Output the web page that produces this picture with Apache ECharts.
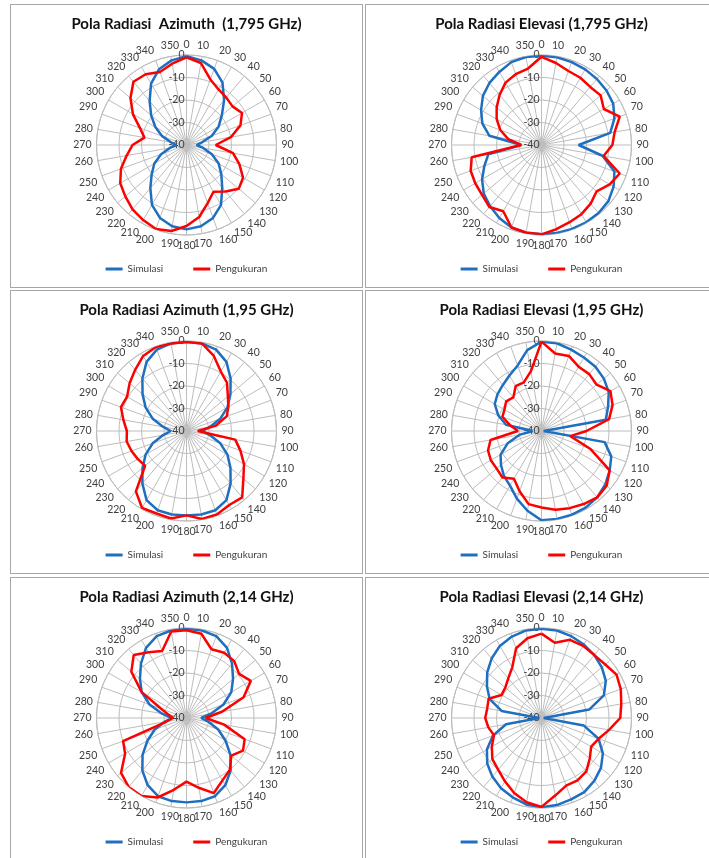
<!DOCTYPE html>
<html>
<head>
<meta charset="utf-8">
<script src="https://cdn.jsdelivr.net/npm/echarts@6/dist/echarts.min.js"></script>
<style>
html,body{margin:0;padding:0;background:#fff;width:709px;height:858px;overflow:hidden;position:relative;}
.cell{position:absolute;box-sizing:border-box;border:1px solid #a6a6a6;width:353px;height:284px;background:#fff;}
</style>
</head>
<body>
<div class="cell" id="c0" style="left:10px;top:4px"></div>
<div class="cell" id="c1" style="left:365px;top:4px"></div>
<div class="cell" id="c2" style="left:10px;top:290px"></div>
<div class="cell" id="c3" style="left:365px;top:290px"></div>
<div class="cell" id="c4" style="left:10px;top:577px"></div>
<div class="cell" id="c5" style="left:365px;top:577px"></div>
<script>
// angle categories (degrees) and radial ticks (dB)
const angles = [0,10,20,30,40,50,60,70,80,90,100,110,120,130,140,150,160,170,180,190,200,210,220,230,240,250,260,270,280,290,300,310,320,330,340,350];
const radialTicks = [-40,-30,-20,-10,0];
const seriesNames = ['Simulasi','Pengukuran'];
const titles = [
  'Pola Radiasi  Azimuth  (1,795 GHz)',
  'Pola Radiasi Elevasi (1,795 GHz)',
  'Pola Radiasi Azimuth (1,95 GHz)',
  'Pola Radiasi Elevasi (1,95 GHz)',
  'Pola Radiasi Azimuth (2,14 GHz)',
  'Pola Radiasi Elevasi (2,14 GHz)'
];

// Azimuth 1,795 GHz
const az1795Simulasi = [-0.5,-1.8,-4,-8,-14,-19.5,-23.5,-28,-33,-35.5,-32.5,-28,-23.5,-19.8,-15.3,-9.3,-5.5,-3.3,-2.5,-3.3,-5.5,-9.3,-15,-19.8,-23.5,-28,-32.5,-35.5,-33,-28.5,-24,-19.5,-14.5,-8.5,-4.2,-1.8];
const az1795Pengukuran = [-1,-3,-9,-11.5,-12.5,-13.3,-11.5,-14.5,-20,-27,-19,-15,-11,-9.7,-13,-16,-12.5,-7.5,-4,-1.2,-0.3,-1.5,-2.7,-4.5,-6,-9,-13,-16,-21,-18,-12.5,-7.5,-3.3,-3.7,-5.5,-3.3];
// Elevasi 1,795 GHz
const el1795Simulasi = [-0.3,-0.4,-0.8,-1.2,-1.7,-2.3,-3.2,-5.5,-9,-23.5,-12.5,-5.5,-3,-1.2,-0.5,-0.3,-0.3,-0.3,-0.3,-0.3,-1,-2.5,-4.5,-6.5,-9.5,-13,-16,-31,-16.5,-12,-9,-6,-4,-2.5,-0.8,-0.3];
const el1795Pengukuran = [-0.8,-3,-5,-5.5,-6.3,-5.7,-8,-3,-7,-8.5,-12,-3,-5,-8,-6,-4.5,-3.5,-2,-0.3,-0.5,-1,-6,-4,-5.5,-6,-6.5,-8.5,-31,-25,-20.5,-17,-14,-11,-8,-6.5,-5.5];
// Azimuth 1,95 GHz
const az195Simulasi = [-0.3,-0.5,-1.5,-4.5,-9.5,-14.5,-19,-24,-29.5,-33,-29.5,-24,-19,-14.5,-9.5,-4.5,-2.5,-2.3,-2.5,-2.3,-2.5,-4.5,-9.5,-14.5,-19,-24,-29.5,-33,-29.5,-24,-19,-14.5,-9.5,-4.5,-1.5,-0.5];
const az195Pengukuran = [-0.5,-0.5,-4.5,-9.5,-12,-16,-18.5,-21,-27,-35,-18,-14.5,-10.5,-7,-1.5,-2,-0.5,-0.3,-2.5,-0.5,-1,-0.5,-5,-16,-15,-14,-13,-13.5,-11.5,-9,-9.5,-7,-4.5,-1.5,-0.3,-0.5];
// Elevasi 1,95 GHz
const el195Simulasi = [-0.3,-0.4,-1.5,-2.3,-2.7,-3.8,-5.5,-8.5,-11,-39,-11.5,-7,-5,-3,-1.5,-0.7,-0.4,-0.3,-0.3,-4,-8,-12,-14,-16.5,-19,-24,-30,-36,-24,-19.5,-16,-14.5,-13.3,-11.5,-9,-3.5];
const el195Pengukuran = [-0.3,-5,-4.5,-7,-7,-8,-4.6,-6.4,-9.5,-20,-27,-17,-5,-2.2,-1.5,-2.5,-3.5,-4.5,-6,-7,-11.5,-15.5,-13,-14,-14,-14.7,-17,-29.5,-26,-21.5,-21,-19.5,-20.5,-17,-17,-13];
// Azimuth 2,14 GHz
const az214Simulasi = [-0.3,-0.5,-1.3,-4,-8.5,-13,-17,-22.5,-29,-33.5,-30,-25,-20,-14.5,-9.5,-5.5,-3,-2.5,-2.5,-2.5,-3,-5.5,-9.5,-14.5,-20,-25,-30,-33.5,-29,-22.5,-17,-13,-8.5,-4,-1.3,-0.5];
const az214Pengukuran = [-1,-2,-7.5,-6.5,-7,-9.5,-7,-13,-24,-31.5,-23,-12.5,-11,-14,-10,-8,-4.5,-8.5,-11.7,-7.6,-2.4,0,0,-2,-8.5,-10,-31,-34,-32,-28,-17,-8,-3.5,-6.3,-8.3,-1];
// Elevasi 2,14 GHz
const el214Simulasi = [-0.3,-0.5,-1.3,-2.3,-3.5,-5,-7,-10.5,-18.5,-39,-21,-13,-8.5,-5.5,-3.5,-2,-1.5,-0.7,-0.3,-1,-2.5,-4,-6,-8.5,-12,-17,-24,-39,-22,-15.5,-12,-8.5,-5.5,-3,-1.5,-0.5];
const el214Pengukuran = [-2.5,-6,-3,-3,-3.5,-3,-1.5,-2.5,-4,-5,-9.5,-13,-14.5,-12,-9,-8,-8,-5,-0.5,-2,-4.5,-7.5,-10,-11.5,-14.5,-17.5,-16,-15,-15.5,-15,-19.5,-19,-17,-14,-7,-4];

const panels = [
  [az1795Simulasi, az1795Pengukuran],
  [el1795Simulasi, el1795Pengukuran],
  [az195Simulasi, az195Pengukuran],
  [el195Simulasi, el195Pengukuran],
  [az214Simulasi, az214Pengukuran],
  [el214Simulasi, el214Pengukuran]
];
const colors = ['#1f6fc0', '#ff0000'];
const gridColor = '#bdbdbd';
const textColor = '#404040';
const font = 'Lato, "Open Sans", sans-serif';

function closed(vals) {
  const pts = vals.map((v, i) => [v, angles[i]]);
  pts.push([vals[0], 360]);
  return pts;
}

function makeOption(title, pair) {
  return {
    animation: false,
    backgroundColor: '#fff',
    title: {
      text: title, left: 'center', top: 7,
      textStyle: {fontFamily: font, fontSize: 15, fontWeight: 'bold', color: '#111'}
    },
    legend: {
      data: seriesNames, bottom: 8, left: 'center', icon: 'rect',
      itemWidth: 17, itemHeight: 3, itemGap: 30,
      textStyle: {fontFamily: font, fontSize: 10, color: textColor}
    },
    polar: {center: ['50%', 140], radius: 90},
    angleAxis: {
      type: 'value', min: 0, max: 360, interval: 10, startAngle: 90, clockwise: true,
      axisLine: {show: true, lineStyle: {color: gridColor, width: 1}},
      axisTick: {show: false},
      axisLabel: {fontFamily: font, fontSize: 10.5, color: textColor, margin: 5,
        formatter: v => (v === 360 ? '' : String(v))},
      splitLine: {show: true, lineStyle: {color: gridColor, width: 1}}
    },
    radiusAxis: {
      type: 'value', min: radialTicks[0], max: radialTicks[radialTicks.length - 1], interval: 10,
      axisLine: {show: true, lineStyle: {color: gridColor}},
      axisTick: {show: false},
      axisLabel: {fontFamily: font, fontSize: 10.5, color: textColor, margin: 2},
      splitLine: {show: true, lineStyle: {color: gridColor, width: 1}}
    },
    series: pair.map((vals, k) => ({
      type: 'line', coordinateSystem: 'polar', name: seriesNames[k],
      data: closed(vals), symbol: 'none', showSymbol: false,
      lineStyle: {width: 2.5, color: colors[k]}, itemStyle: {color: colors[k]},
      z: 3 + k
    }))
  };
}

panels.forEach((pair, i) => {
  const chart = echarts.init(document.getElementById('c' + i), null, {renderer: 'canvas'});
  chart.setOption(makeOption(titles[i], pair));
});
</script>
</body>
</html>
